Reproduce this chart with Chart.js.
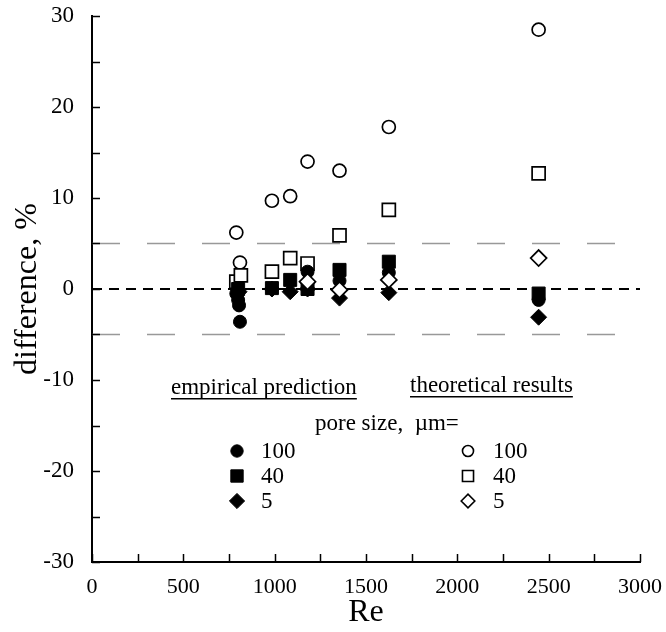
<!DOCTYPE html>
<html>
<head>
<meta charset="utf-8">
<script src="https://cdn.jsdelivr.net/npm/chart.js@4.4.1/dist/chart.umd.min.js"></script>
<style>
  html, body { margin: 0; background: #fff; }
  #wrap { width: 666px; height: 632px; }
</style>
</head>
<body>
<div id="wrap"><canvas id="chart"></canvas></div>
<script>
// empirical prediction (filled markers)
const empRe100 = [790, 800, 805, 810, 1180, 1355, 1625, 2445];
const empDiff100 = [-0.5, -1.2, -1.8, -3.6, 1.9, 0.9, 1.8, -1.2];
const empRe40 = [800, 985, 1085, 1180, 1355, 1625, 2445];
const empDiff40 = [0.0, 0.1, 1.0, 0.0, 2.1, 3.0, -0.5];
const empRe5 = [805, 985, 1085, 1180, 1355, 1625, 2445];
const empDiff5 = [-0.3, 0.0, -0.3, 0.0, -1.0, -0.4, -3.1];

// theoretical results (open markers)
const theoRe100 = [790, 810, 985, 1085, 1180, 1355, 1625, 2445];
const theoDiff100 = [6.2, 2.9, 9.7, 10.2, 14.0, 13.0, 17.8, 28.5];
const theoRe40 = [790, 815, 985, 1085, 1180, 1355, 1625, 2445];
const theoDiff40 = [0.8, 1.5, 1.9, 3.4, 2.8, 5.9, 8.7, 12.7];
const theoRe5 = [1180, 1355, 1625, 2445];
const theoDiff5 = [0.8, -0.1, 1.0, 3.4];

const poreSizes = ['100', '40', '5'];
const refLines = [0, 5, -5];

const serif = '"Liberation Serif", "DejaVu Serif", serif';

function pts(xs, ys) {
  return xs.map((x, i) => ({ x: x, y: ys[i] }));
}

const markers = [
  { style: 'circle', radius: 6.5 },
  { style: 'rect', radius: 9.2 },
  { style: 'rectRot', radius: 8 }
];

function filled(label, data, m, order) {
  return {
    label: label, data: data, order: order,
    pointStyle: m.style, pointRadius: m.radius, pointHoverRadius: m.radius,
    backgroundColor: '#000', borderColor: '#000', borderWidth: 1
  };
}
function open(label, data, m, order) {
  return {
    label: label, data: data, order: order,
    pointStyle: m.style, pointRadius: m.radius, pointHoverRadius: m.radius,
    backgroundColor: '#fff', borderColor: '#000', borderWidth: 1.7
  };
}

// dashed reference lines, inside ticks and the text legend
const decor = {
  id: 'decor',
  beforeDatasetsDraw(chart) {
    const { ctx, chartArea: a, scales: { y } } = chart;
    ctx.save();
    refLines.forEach(v => {
      const py = y.getPixelForValue(v);
      ctx.beginPath();
      if (v === 0) {
        ctx.strokeStyle = '#000'; ctx.lineWidth = 2; ctx.setLineDash([10, 7]);
      } else {
        ctx.strokeStyle = '#999'; ctx.lineWidth = 1.5; ctx.setLineDash([28, 27]);
      }
      ctx.moveTo(a.left, py); ctx.lineTo(a.right, py);
      ctx.stroke();
    });
    ctx.restore();
  },
  afterDraw(chart) {
    const { ctx, chartArea: a, scales: { x, y } } = chart;
    ctx.save();
    ctx.strokeStyle = '#000';
    ctx.lineWidth = 1.5;
    ctx.beginPath();
    for (let v = -30; v <= 30; v += 5) {
      const py = Math.round(y.getPixelForValue(v)) + 0.5;
      ctx.moveTo(a.left, py); ctx.lineTo(a.left + 8, py);
    }
    for (let v = 0; v <= 3000; v += 250) {
      const px = Math.round(x.getPixelForValue(v)) + 0.5;
      ctx.moveTo(px, a.bottom); ctx.lineTo(px, a.bottom - 8);
    }
    ctx.stroke();

    // legend
    ctx.fillStyle = '#000';
    ctx.font = '23px ' + serif;
    ctx.textBaseline = 'alphabetic';
    ctx.textAlign = 'left';
    const heads = [['empirical prediction', 171, 394], ['theoretical results', 410, 392]];
    heads.forEach(([t, hx, hy]) => {
      ctx.fillText(t, hx, hy);
      const w = ctx.measureText(t).width;
      ctx.fillRect(hx, hy + 4, w, 1.5);
    });
    ctx.fillText('pore size,  \u00b5m=', 315, 430);

    ctx.textBaseline = 'middle';
    poreSizes.forEach((s, i) => {
      const py = 451 + i * 25;
      const m = markers[i];
      ctx.fillStyle = '#000';
      ctx.strokeStyle = '#000';
      ctx.lineWidth = 1;
      Chart.helpers.drawPoint(ctx, { pointStyle: m.style, radius: m.radius * 0.95, rotation: 0, borderWidth: 1 }, 237, py);
      ctx.fillStyle = '#fff';
      ctx.lineWidth = 1.6;
      Chart.helpers.drawPoint(ctx, { pointStyle: m.style, radius: m.radius * 0.85, rotation: 0, borderWidth: 1.6 }, 468, py);
      ctx.fillStyle = '#000';
      ctx.fillText(s, 261, py + 1);
      ctx.fillText(s, 493, py + 1);
    });
    ctx.restore();
  }
};

new Chart(document.getElementById('chart'), {
  type: 'scatter',
  data: {
    datasets: [
      open('theoretical 5', pts(theoRe5, theoDiff5), markers[2], 0),
      filled('empirical 5', pts(empRe5, empDiff5), markers[2], 1),
      filled('empirical 40', pts(empRe40, empDiff40), markers[1], 2),
      filled('empirical 100', pts(empRe100, empDiff100), markers[0], 3),
      open('theoretical 40', pts(theoRe40, theoDiff40), markers[1], 4),
      open('theoretical 100', pts(theoRe100, theoDiff100), markers[0], 5)
    ]
  },
  plugins: [decor],
  options: {
    responsive: true,
    maintainAspectRatio: false,
    animation: false,
    layout: { padding: { top: 16, right: 20, left: 0, bottom: 0 } },
    plugins: { legend: { display: false }, tooltip: { enabled: false } },
    scales: {
      x: {
        type: 'linear', min: 0, max: 3000,
        afterFit: s => { s.height = 70; },
        grid: { display: false },
        border: { color: '#000', width: 2 },
        ticks: { stepSize: 500, color: '#000', padding: 4, maxRotation: 0, callback: v => String(v), font: { family: serif, size: 22 } },
        title: { display: true, text: 'Re', color: '#000', padding: 0, font: { family: serif, size: 32 } }
      },
      y: {
        type: 'linear', min: -30, max: 30,
        afterFit: s => { s.width = 92; s.paddingTop = 0; s.paddingBottom = 0; },
        grid: { display: false },
        border: { color: '#000', width: 2 },
        ticks: { stepSize: 10, color: '#000', padding: 10, callback: v => String(v), font: { family: serif, size: 23 } },
        title: { display: true, text: 'difference, %', color: '#000', padding: { top: 8 }, font: { family: serif, size: 32 } }
      }
    }
  }
});
</script>
</body>
</html>
